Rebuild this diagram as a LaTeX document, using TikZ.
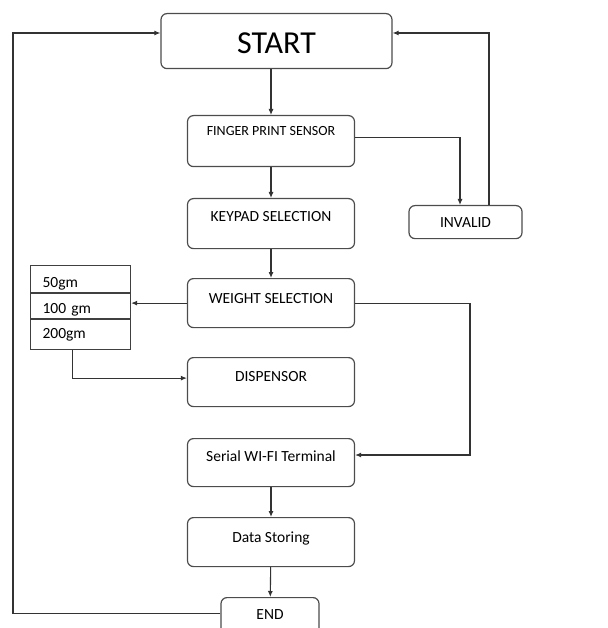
\documentclass[tikz,border=0pt]{standalone}
\usepackage{fontspec}
\setmainfont{Carlito}
\usetikzlibrary{arrows.meta}
\tikzset{
  box/.style={draw=black!70, line width=1.2pt, rounded corners=6pt, inner sep=0pt,
    anchor=north, minimum width=167pt, font=\fontsize{15.5}{18}\selectfont},
  cell/.style={draw=black!75, line width=1.1pt, anchor=north west, inner xsep=12pt,
    inner ysep=0pt, text width=76pt, align=left, font=\fontsize{15.5}{18}\selectfont},
  ln/.style={line width=1.1pt, draw=black!80},
  arr/.style={ln, -{Latex[length=6pt,width=5pt]}}
}

\begin{document}
\begin{tikzpicture}[x=1pt,y=-1pt]
		\clip (0,0) rectangle (607,628);
		%%%%% BOXES %%%%%
		\node[box, minimum width=231pt, text height=40pt, text depth=15pt,
		  font=\fontsize{32}{36}\selectfont] (start) at (276.5,13) {START};
		\node[box, text height=20pt, text depth=31pt,
		  font=\fontsize{14}{16}\selectfont] (finger) at (271,115) {FINGER PRINT SENSOR};
		\node[box, text height=23pt, text depth=27pt] (keypad) at (271,198) {KEYPAD SELECTION};
		\node[box, text height=25pt, text depth=24pt] (weight) at (271,278) {WEIGHT SELECTION};
		\node[box, text height=24pt, text depth=25pt] (dispensor) at (271,357) {DISPENSOR};
		\node[box, text height=23pt, text depth=25pt] (serial) at (271,438) {Serial WI-FI Terminal};
		\node[box, text height=25pt, text depth=24pt] (storing) at (271,517) {Data Storing};
		\node[box, minimum width=98pt, text height=22pt, text depth=21pt] (end) at (270,597) {END};
		\node[box, minimum width=113pt, text height=22pt, text depth=11pt] (invalid) at (465.5,205) {INVALID};
		
		%%%%% WEIGHT TABLE %%%%%
		\node[cell, text height=22pt, text depth=5pt] (g50) at (30,265) {50gm};
		\node[cell, text height=20pt, text depth=5pt] (g100) at (g50.south west) {100 gm};
		\node[cell, text height=19pt, text depth=11pt] (g200) at (g100.south west) {200gm};
		
		%%%%% TURNING POINTS %%%%%
		\coordinate (upL) at (13,33);
		\coordinate (upR) at (489,33);
		\coordinate (sideR) at (470,455);
		
		%%%%% MAIN CHAIN %%%%%
		\draw[arr] (finger.north |- start.south) -- (finger.north);
		\draw[arr] (finger) -- (keypad);
		\draw[arr] (keypad) -- (weight);
		\draw[arr] (serial) -- (storing);
		\draw[arr] (storing) -- (end);
		
		%%%%% BRANCHES %%%%%
		\draw[arr] ([yshift=-2pt]finger.base -| finger.east) -| (invalid.north -| 460,0);
		\draw[arr] (invalid.north -| upR) -- (upR) -- (upR -| start.east);
		\draw[arr] (weight.west) -- (weight.west -| g100.east);
		\draw[arr] ([xshift=-8pt]g200.south) |- ([yshift=4pt]dispensor.west);
		\draw[arr] (weight.east) -| (sideR) -- (sideR -| serial.east);
		\draw[arr] ([yshift=6pt]end.base -| end.west) -| (upL) -- (upL -| start.west);
		%%%%% END %%%%%
\end{tikzpicture}
\end{document}
